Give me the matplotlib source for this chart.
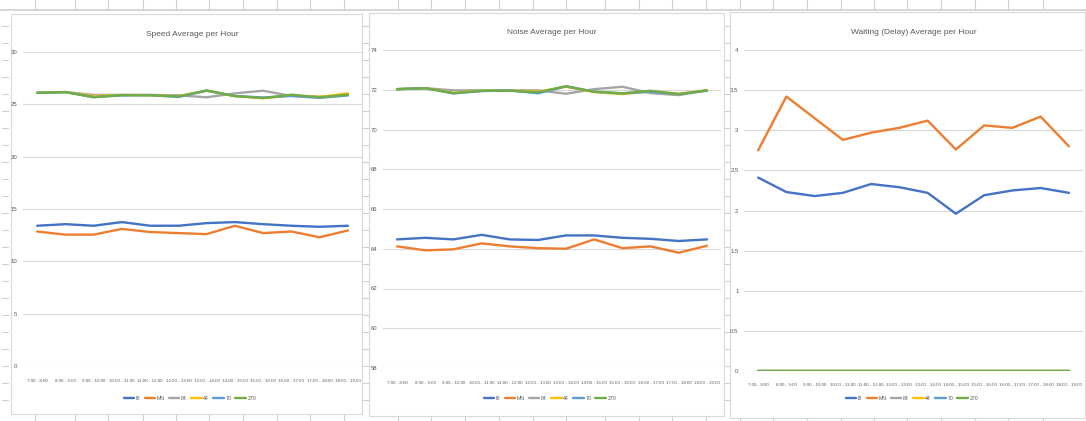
import matplotlib.pyplot as plt
from matplotlib.lines import Line2D
from matplotlib.patches import Rectangle

plt.rcParams['font.family'] = ['Liberation Sans', 'DejaVu Sans']

hours = ["7:00 - 8:00", "8:00 - 9:00", "9:00 - 10:00", "10:00 - 11:00",
         "11:00 - 12:00", "12:00 - 13:00", "13:00 - 14:00", "14:00 - 15:00",
         "15:00 - 16:00", "16:00 - 17:00", "17:00 - 18:00", "18:00 - 19:00"]
series_names = ["I8", "MN", "64", "44", "70", "270"]

# speed per hour
speed_i8 = [13.4, 13.55, 13.4, 13.75, 13.4, 13.4, 13.65, 13.75, 13.55, 13.4, 13.3, 13.4]
speed_mn = [12.85, 12.55, 12.55, 13.1, 12.8, 12.7, 12.6, 13.4, 12.7, 12.85, 12.3, 12.95]
speed_64 = [26.1, 26.17, 25.9, 25.9, 25.9, 25.86, 25.67, 26.05, 26.3, 25.8, 25.73, 25.92]
speed_44 = [26.1, 26.17, 25.8, 25.88, 25.88, 25.78, 26.3, 25.78, 25.58, 25.85, 25.7, 26.05]
speed_70 = [26.1, 26.17, 25.7, 25.85, 25.88, 25.7, 26.3, 25.8, 25.65, 25.8, 25.62, 25.85]
speed_270 = [26.1, 26.17, 25.67, 25.89, 25.86, 25.76, 26.33, 25.79, 25.6, 25.92, 25.67, 25.92]

# noise per hour
noise_i8 = [64.47, 64.55, 64.47, 64.7, 64.47, 64.44, 64.67, 64.67, 64.55, 64.5, 64.39, 64.47]
noise_mn = [64.12, 63.92, 63.97, 64.27, 64.12, 64.03, 64.0, 64.47, 64.03, 64.12, 63.8, 64.15]
noise_64 = [72.03, 72.08, 71.97, 71.97, 71.97, 71.97, 71.8, 72.03, 72.15, 71.83, 71.73, 71.97]
noise_44 = [72.03, 72.08, 71.85, 71.95, 71.97, 71.9, 72.15, 71.88, 71.78, 71.92, 71.8, 71.98]
noise_70 = [72.03, 72.08, 71.82, 71.93, 71.97, 71.82, 72.17, 71.9, 71.82, 71.9, 71.78, 71.95]
noise_270 = [72.03, 72.08, 71.82, 71.95, 71.95, 71.87, 72.18, 71.9, 71.82, 71.95, 71.78, 71.97]

# waiting (delay) per hour
wait_i8 = [2.41, 2.23, 2.18, 2.22, 2.33, 2.29, 2.22, 1.96, 2.19, 2.25, 2.28, 2.22]
wait_mn = [2.75, 3.42, 3.15, 2.88, 2.97, 3.03, 3.12, 2.76, 3.06, 3.03, 3.17, 2.8]
wait_64 = [0] * 12
wait_44 = [0] * 12
wait_70 = [0] * 12
wait_270 = [0] * 12

colors = ["#4472C4", "#ED7D31", "#A5A5A5", "#FFC000", "#5B9BD5", "#70AD47"]
text_grey = "#595959"
W, H = 1086, 421

fig = plt.figure(figsize=(W / 100, H / 100), dpi=100)


def fx(px):
    return px / W


def fy(py):
    return 1 - py / H


# spreadsheet background bits (behind the charts)
fig.add_artist(Line2D([0, 1], [fy(10), fy(10)], color="#D0D0D0", lw=1.2, zorder=-10))
for cx in [35, 75, 108, 143, 176, 209, 243, 277, 310, 344, 398, 431, 465, 499,
           533, 566, 605, 639, 672, 706, 740, 773, 807, 841, 874, 907, 941, 975,
           1008, 1043]:
    fig.add_artist(Line2D([fx(cx), fx(cx)], [fy(0), fy(10)], color="#D0D0D0", lw=0.8, zorder=-10))
    fig.add_artist(Line2D([fx(cx), fx(cx)], [fy(414), fy(421)], color="#D0D0D0", lw=0.8, zorder=-10))
for x0 in [2, 363, 725]:
    for ry in range(26, 415, 17):
        fig.add_artist(Line2D([fx(x0), fx(x0 + 6)], [fy(ry), fy(ry)], color="#D0D0D0", lw=0.8, zorder=-10))

# chart area boxes
for (x0, y0, x1, y1) in [(11, 14, 362, 414), (369, 13, 724, 416), (730, 12, 1085, 418)]:
    fig.add_artist(Rectangle((fx(x0), fy(y1)), fx(x1 - x0), (y1 - y0) / H,
                             facecolor="white", edgecolor="#D9D9D9", lw=0.8, zorder=-5))

panels = [
    ("Speed Average per Hour", [speed_i8, speed_mn, speed_64, speed_44, speed_70, speed_270],
     (23, 52, 362, 366), (0, 30), 5, 190),
    ("Noise Average per Hour", [noise_i8, noise_mn, noise_64, noise_44, noise_70, noise_270],
     (383, 50, 721, 368), (58, 74), 2, 550),
    ("Waiting (Delay) Average per Hour", [wait_i8, wait_mn, wait_64, wait_44, wait_70, wait_270],
     (744, 50, 1083, 371), (0, 4), 0.5, 912),
]

for title, data, (l, t, r, b), ylim, step, legx in panels:
    ax = fig.add_axes([fx(l), fy(b), fx(r - l), (b - t) / H])
    ax.patch.set_alpha(0)
    for name, vals, c in zip(series_names, data, colors):
        ax.plot(range(len(hours)), vals, color=c, lw=1.7, label=name,
                solid_capstyle="round", solid_joinstyle="round")
    ax.set_xlim(-0.5, len(hours) - 0.5)
    ax.set_ylim(*ylim)
    ticks = []
    v = ylim[0]
    while v <= ylim[1] + 1e-9:
        ticks.append(v)
        v += step
    ax.set_yticks(ticks)
    ax.set_yticklabels(["%g" % tk for tk in ticks])
    ax.set_xticks(range(len(hours)))
    ax.set_xticklabels(hours)
    ax.tick_params(axis="both", length=0, labelsize=4.3, colors=text_grey)
    ax.tick_params(axis="x", labelsize=3.2, pad=9)
    ax.tick_params(axis="y", pad=4)
    ax.grid(axis="y", color="#D9D9D9", lw=0.8)
    ax.set_axisbelow(True)
    for s in ax.spines.values():
        s.set_visible(False)
    ax.set_title(title, fontsize=6.0, color=text_grey, pad=11.5)
    ax.legend(loc="center", bbox_to_anchor=((legx - l) / (r - l), -(398 - b) / (b - t)),
              ncol=6, frameon=False, fontsize=3.8, handlelength=2.0,
              handletextpad=0.3, columnspacing=0.8, labelcolor=text_grey)

fig.savefig("out.png", dpi=100, facecolor="white")
